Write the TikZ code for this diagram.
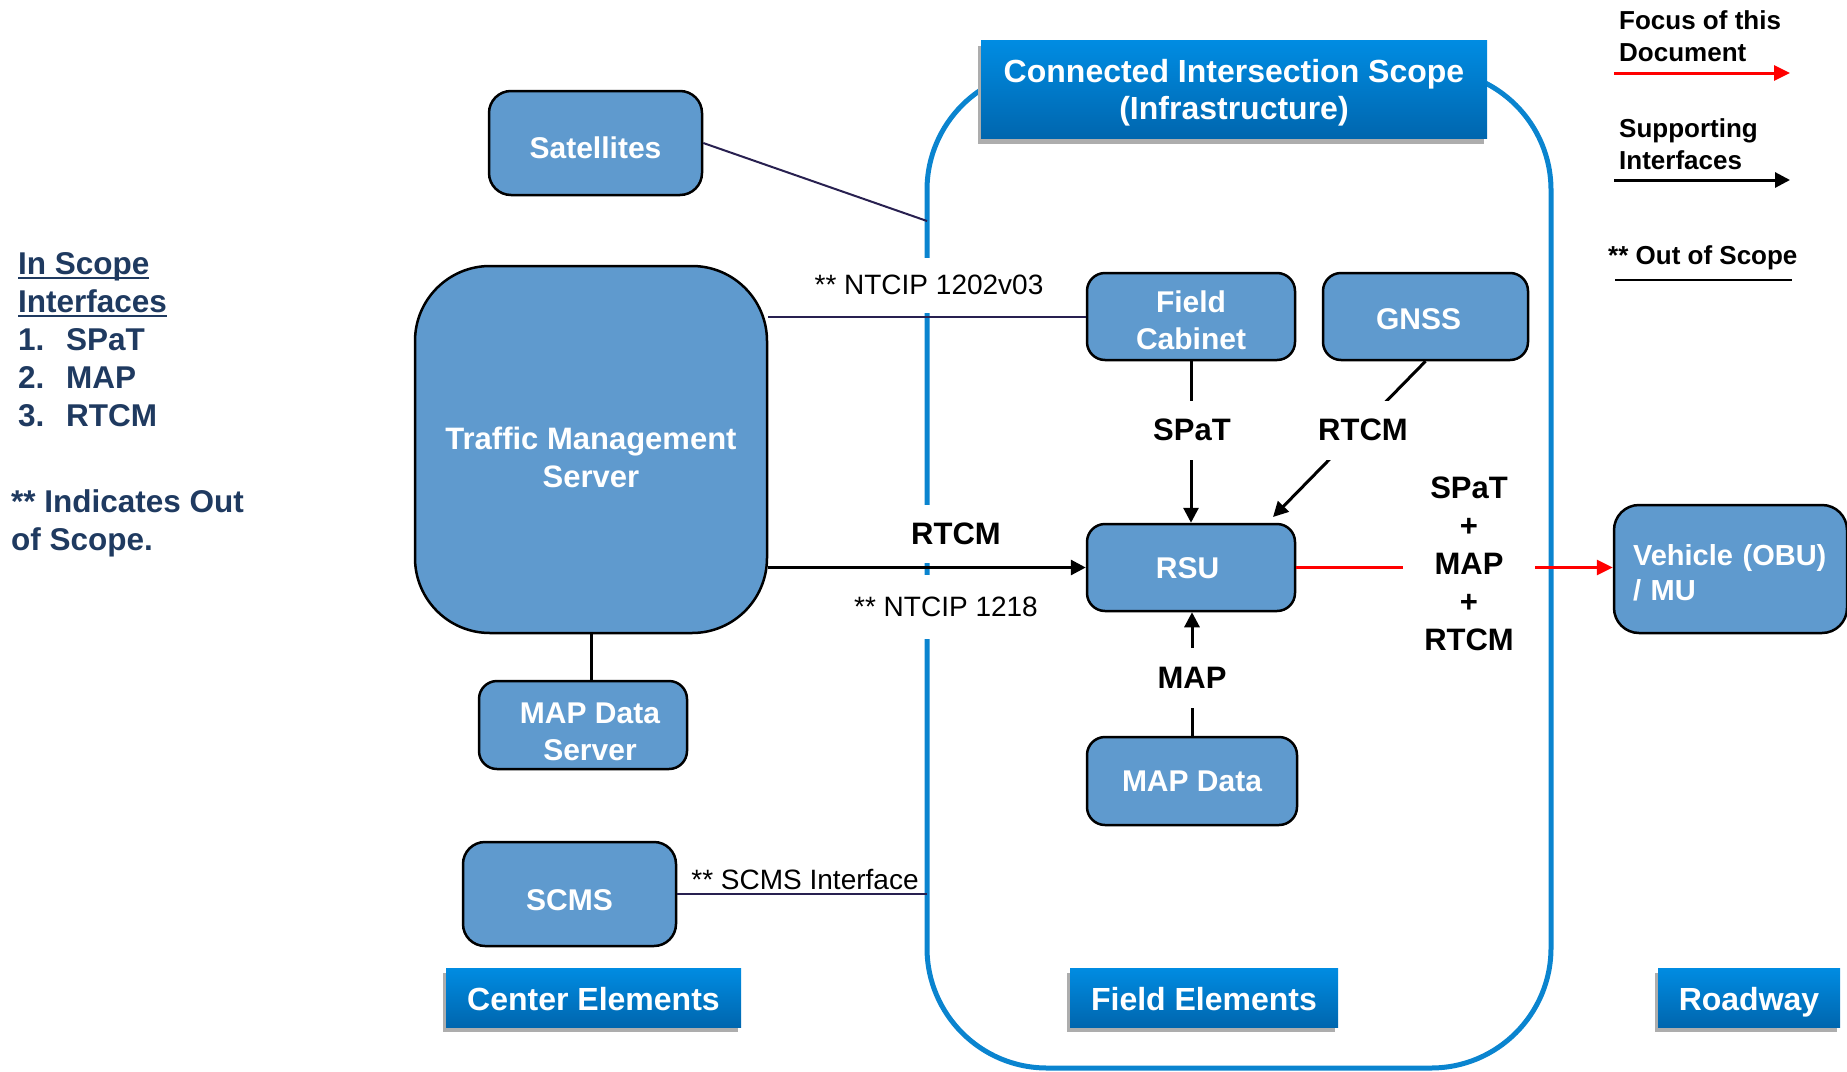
\documentclass[tikz,border=0pt]{standalone}
\usepackage{fontspec}
\setmainfont{Liberation Sans}
\usetikzlibrary{arrows.meta,shadows,calc}
\definecolor{boxfill}{RGB}{95,154,206}
\definecolor{scopeblue}{RGB}{10,132,207}
\definecolor{tabtop}{RGB}{0,140,226}
\definecolor{tabbot}{RGB}{0,102,174}
\definecolor{navyline}{RGB}{40,32,80}
\definecolor{legnavy}{RGB}{31,58,96}
\newcommand\myul[1]{\setbox0\hbox{#1}\rlap{\rule[-5pt]{\wd0}{2.5pt}}\box0}
\newcommand\dn[2][5pt]{\raisebox{-#1}[\height][\depth]{#2}}
\begin{document}
\begin{tikzpicture}[x=1pt,y=-1pt,
  blk/.style={draw=black, line width=2.5pt, fill=boxfill, rounded corners=18pt, text=white,
    font=\fontsize{30}{37}\selectfont\bfseries, align=center, inner sep=0pt},
  tabbox/.style={top color=tabtop, bottom color=tabbot, draw=none, text=white,
    font=\fontsize{32}{37}\selectfont\bfseries, align=center, inner sep=0pt,
    drop shadow={shadow xshift=-3pt, shadow yshift=-5pt, fill=black!32, opacity=1}},
  lbl/.style={fill=white, font=\fontsize{31}{38}\selectfont\bfseries, inner xsep=4pt, inner ysep=0pt, align=center},
  ifc/.style={font=\fontsize{28}{34}\selectfont, inner xsep=4pt, inner ysep=0pt},
  conn/.style={line width=3pt, draw=black},
  arr/.style={conn, -{Triangle[length=15pt,width=15pt]}},
  redarr/.style={line width=3pt, draw=red, -{Triangle[length=16pt,width=15pt]}},
  thinline/.style={line width=2pt, draw=navyline},
  legtxt/.style={font=\fontsize{26}{32}\selectfont\bfseries, align=left, inner sep=0pt},
  lefttxt/.style={font=\fontsize{31.5}{38}\selectfont\bfseries, text=legnavy, align=left, inner sep=0pt}
]
\useasboundingbox (0,0) rectangle (1847,1071);

% scope container
\node[draw=scopeblue, line width=5pt, rounded corners=120pt, minimum width=624pt, minimum height=998pt, inner sep=0pt] (scope) at (1239,569) {};

% boxes
\node[blk, rounded corners=22pt, minimum width=213pt, minimum height=104pt] (sat) at (595.5,143) {\dn{Satellites}};
\node[blk, rounded corners=75pt, minimum width=352pt, minimum height=367pt, font=\fontsize{31}{38}\selectfont\bfseries] (tms) at (591,449.5) {\dn[7.5pt]{Traffic Management}\\\dn[7.5pt]{Server}};
\node[blk, minimum width=208pt, minimum height=88pt] (mds) at (583,725) {\hspace*{14pt}\dn[6.5pt]{MAP Data}\\\hspace*{14pt}\dn[6.5pt]{Server}};
\node[blk, rounded corners=22pt, minimum width=213pt, minimum height=104pt] (scms) at (569.5,894) {\dn[6pt]{SCMS}};
\node[blk, minimum width=208pt, minimum height=87pt] (fc) at (1191,316.5) {\dn[4pt]{Field}\\\dn[4pt]{Cabinet}};
\node[blk, minimum width=205pt, minimum height=87pt] (gnss) at (1425.5,316.5) {\dn[2.5pt]{GNSS}\hspace*{14pt}};
\node[blk, minimum width=208pt, minimum height=87pt] (rsu) at (1191,567.5) {\dn[1pt]{RSU}\hspace*{7pt}};
\node[blk, minimum width=210pt, minimum height=88pt] (mapd) at (1192,781) {MAP Data};
\node[blk, rounded corners=25pt, minimum width=233pt, minimum height=128pt, align=left, text width=195pt, inner xsep=19pt, font=\fontsize{29}{35}\selectfont\bfseries] (veh) at (1730.5,569) {\dn[4pt]{Vehicle (OBU)}\\\dn[4pt]{/ MU}};

% tabs
\node[tabbox, minimum width=506pt, minimum height=98pt] (title) at (1234,89.5) {\dn[3pt]{Connected Intersection Scope}\\\dn[3pt]{(Infrastructure)}};
\node[tabbox, minimum width=295pt, minimum height=59pt] (cent) at (593.5,997.5) {\dn[2pt]{Center Elements}};
\node[tabbox, minimum width=268pt, minimum height=59pt] (fiel) at (1204,997.5) {\dn[2pt]{Field Elements}};
\node[tabbox, minimum width=182pt, minimum height=59pt] (road) at (1749,997.5) {\dn[5pt]{Roadway}};

% connectors passing under labels
\coordinate (rsuNE) at (1273,517);
\draw[arr] (fc.south) -- (rsu.north);
\draw[arr] (gnss.south) -- (rsuNE);
\draw[arr] (mapd.north) -- (mapd.north |- rsu.south);
\draw[redarr] (rsu.east) -- (rsu.east -| veh.west);

% labels
\node[ifc, fill=white, minimum height=55pt] (ntcipA) at (929,285) {** NTCIP 1202v03};
\node[lbl, minimum height=58pt] (rtcmA) at (956,534) {RTCM};
\node[ifc, fill=white, minimum height=64pt] (ntcipB) at (946,607) {** NTCIP 1218};
\node[ifc] (scmsif) at (805,879) {** SCMS Interface};
\node[lbl, minimum height=59pt] (spatL) at (1192,430) {SPaT};
\node[lbl, minimum height=59pt] (rtcmL) at (1363,430) {RTCM};
\node[lbl, minimum height=60pt] (mapL) at (1192,678) {MAP};
\node[lbl, minimum width=132pt] (combo) at (1469,564) {SPaT\\+\\MAP\\+\\RTCM};

% other connectors
\coordinate (satend) at (927,221);
\coordinate (scmsend) at (927,894);
\draw[arr] (tms.east |- rsu.west) -- (rsu.west);
\draw[thinline] (tms.east |- fc.west) -- (fc.west);
\draw[thinline] (sat.east) -- (satend);
\draw[thinline] (scms.east) -- (scmsend);
\draw[conn] (tms.south) -- (tms.south |- mds.north);

% right legend
\node[legtxt, anchor=west] (lfocus) at (1619,36) {Focus of this\\Document};
\coordinate (lf1) at (1614,73); \coordinate (lf2) at (1790,73);
\draw[redarr] (lf1) -- (lf2);
\node[legtxt, anchor=west] (lsupp) at (1619,144) {Supporting\\Interfaces};
\coordinate (ls1) at (1614,180); \coordinate (ls2) at (1790,180);
\draw[arr] (ls1) -- (ls2);
\node[legtxt, anchor=west] (lout) at (1608,258) {** Out of Scope};
\coordinate (lo1) at (1615,280); \coordinate (lo2) at (1792,280);
\draw[conn, line width=2.5pt] (lo1) -- (lo2);

% left legend
\node[lefttxt, anchor=west] (inscope) at (18,339.5) {\myul{In Scope}\\\myul{Interfaces}\\\makebox[48pt][l]{1.}SPaT\\\makebox[48pt][l]{2.}MAP\\\makebox[48pt][l]{3.}RTCM};
\node[lefttxt, anchor=west] (indic) at (11,523) {** Indicates Out\\of Scope.};
\end{tikzpicture}
\end{document}
